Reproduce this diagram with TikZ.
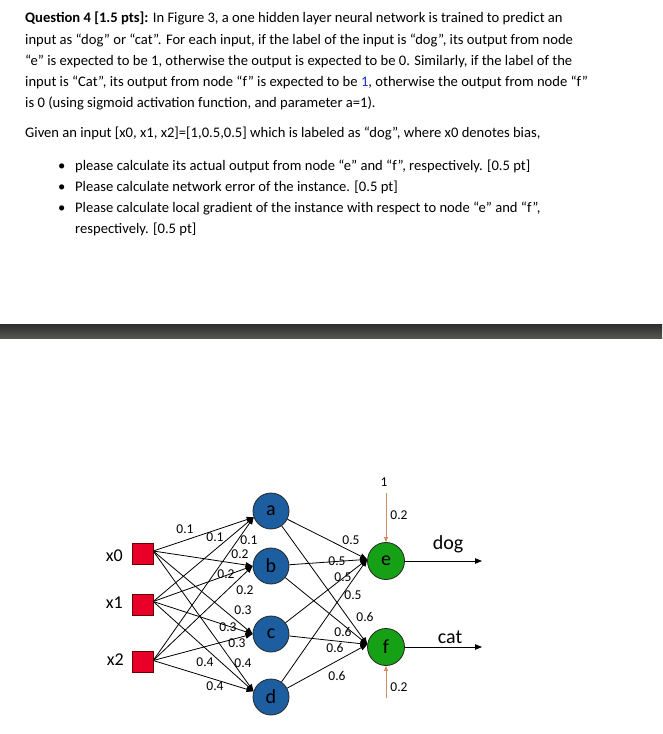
\documentclass[tikz,border=0pt]{standalone}
\usepackage{fontspec}
\setmainfont{Carlito}
\usetikzlibrary{arrows.meta}
\definecolor{inred}{RGB}{232,0,40}
\definecolor{hidblue}{RGB}{28,94,160}
\definecolor{outgreen}{RGB}{22,160,22}
\definecolor{biasorange}{RGB}{214,140,100}
\definecolor{qblue}{RGB}{30,50,190}
\definecolor{bartop}{RGB}{45,45,45}
\definecolor{barbot}{RGB}{85,85,80}
\begin{document}
\begin{tikzpicture}[x=1pt,y=-1pt,
  txt/.style={anchor=base west, inner sep=0pt, font=\fontsize{14.6}{16}\selectfont},
  inbox/.style={draw=black!60!red, fill=inred, minimum size=21pt, inner sep=0pt},
  inlab/.style={anchor=east, inner sep=0pt, font=\fontsize{18}{20}\selectfont},
  hid/.style={circle, draw=black!85, line width=0.8pt, fill=hidblue, minimum size=36pt, inner sep=0pt, font=\fontsize{20}{22}\selectfont},
  outn/.style={circle, draw=black!85, line width=0.8pt, fill=outgreen, minimum size=37pt, inner sep=0pt, font=\fontsize{20}{22}\selectfont},
  wlab/.style={inner sep=0pt, font=\fontsize{13.5}{15}\selectfont},
  olab/.style={inner sep=0pt, font=\fontsize{20}{22}\selectfont},
  conn/.style={-{Triangle[length=7pt,width=5.5pt]}, line width=0.8pt},
  biasarrow/.style={draw=biasorange, line width=0.7pt, -{Triangle[length=5pt,width=4pt]}}
]
\useasboundingbox (0,0) rectangle (662,734);
\fill[white] (0,0) rectangle (662,734);

% ---------- question text ----------
\node[txt] (l1) at (25,22.5) {\textbf{Question 4 [1.5 pts]:} In Figure 3, a one hidden layer neural network is trained to predict an};
\node[txt] (l2) at (25,44) {input as “dog” or “cat”. For each input, if the label of the input is “dog”, its output from node};
\node[txt] (l3) at (25,65) {“e” is expected to be 1, otherwise the output is expected to be 0. Similarly, if the label of the};
\node[txt] (l4) at (25,86) {input is “Cat”, its output from node “f” is expected to be {\color{qblue}1}, otherwise the output from node “f”};
\node[txt] (l5) at (25,107) {is 0 (using sigmoid activation function, and parameter a=1).};
\node[txt] (l6) at (25,137) {Given an input [x0, x1, x2]=[1,0.5,0.5] which is labeled as “dog”, where x0 denotes bias,};
\node[txt] (bu1) at (58,170) {•};
\node[txt] (b1) at (75,170) {please calculate its actual output from node “e” and “f”, respectively. [0.5 pt]};
\node[txt] (bu2) at (58,191.5) {•};
\node[txt] (b2) at (75,191.5) {Please calculate network error of the instance. [0.5 pt]};
\node[txt] (bu3) at (58,212.5) {•};
\node[txt] (b3) at (75,212.5) {Please calculate local gradient of the instance with respect to node “e” and “f”,};
\node[txt] (b4) at (75,233.5) {respectively. [0.5 pt]};

% ---------- separator bar ----------
\shade[top color=bartop, bottom color=barbot] (0,324) rectangle (662,338);

% ---------- nodes ----------
\node[inbox] (x0) at (142.5,554) {};
\node[inbox] (x1) at (142.5,604.5) {};
\node[inbox] (x2) at (142.5,661.5) {};
\node[inlab] (x0l) at (123,556) {x0};
\node[inlab] (x1l) at (123,603) {x1};
\node[inlab] (x2l) at (124,660) {x2};

\node[hid] (a) at (271,511) {a};
\node[hid] (b) at (271,566) {b};
\node[hid] (c) at (271,634) {c};
\node[hid] (d) at (271,697) {d};

\node[outn] (e) at (386,561) {e};
\node[outn] (f) at (386,647) {f};

\coordinate (o0) at ([yshift=3pt]x0.east);
\coordinate (o1) at ([yshift=3pt]x1.east);
\coordinate (o2) at ([yshift=1pt]x2.east);

% ---------- input -> hidden ----------
\foreach \s in {o0,o1,o2}{
  \draw[conn] (\s) -- (a.200);
  \draw[conn] (\s) -- (b.west);
  \draw[conn] (\s) -- (c.west);
  \draw[conn] (\s) -- (d.162);
}

% ---------- hidden -> output ----------
\foreach \h in {a,b,c,d}{
  \draw[conn] (\h) -- (e.175);
  \draw[conn] (\h) -- (f.172);
}

% ---------- bias and outputs ----------
\node[wlab] (one) at (384,482) {1};
\coordinate (bt) at (386,493);
\coordinate (bb) at (386,698);
\draw[biasarrow] (bt) -- (e.north);
\draw[biasarrow] (bb) -- (f.south);
\node[wlab] (be) at (399,515) {0.2};
\node[wlab] (bf) at (399,687) {0.2};

\coordinate (dogend) at (482,561);
\coordinate (catend) at (482,647);
\draw[conn] (e) -- (dogend);
\draw[conn] (f) -- (catend);
\node[olab] (dog) at (448,544) {dog};
\node[olab] (cat) at (450,637) {cat};

% ---------- weight labels ----------
\node[wlab] (w0a) at (185,529) {0.1};
\node[wlab] (w1a) at (215,537) {0.1};
\node[wlab] (w2a) at (249,540) {0.1};
\node[wlab] (w0b) at (240,554) {0.2};
\node[wlab] (w1b) at (226,574) {0.2};
\node[wlab] (w2b) at (245,590) {0.2};
\node[wlab] (w0c) at (243,610) {0.3};
\node[wlab] (w1c) at (228,627) {0.3};
\node[wlab] (w2c) at (237,643) {0.3};
\node[wlab] (w0d) at (205,662) {0.4};
\node[wlab] (w1d) at (243,663) {0.4};
\node[wlab] (w2d) at (215,686) {0.4};

\node[wlab] (wae) at (351,540) {0.5};
\node[wlab] (wbe) at (337,561) {0.5};
\node[wlab] (wce) at (343,577) {0.5};
\node[wlab] (wde) at (353,595) {0.5};
\node[wlab] (waf) at (365,617) {0.6};
\node[wlab] (wbf) at (343,632) {0.6};
\node[wlab] (wcf) at (335,648) {0.6};
\node[wlab] (wdf) at (337,676) {0.6};
\end{tikzpicture}
\end{document}
